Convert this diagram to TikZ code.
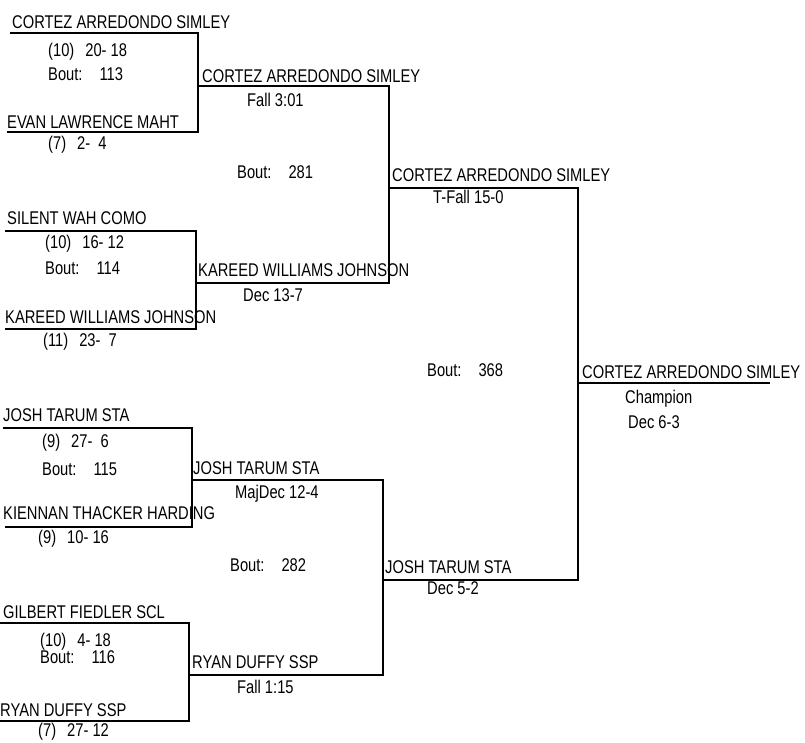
\documentclass[tikz,border=0pt]{standalone}
\usepackage{fontspec}
\setmainfont[FakeStretch=0.8]{Liberation Sans}

\newcommand{\seedrec}[2]{(#1)\hspace{11pt}#2}
\newcommand{\boutno}[1]{Bout:\hspace{17pt}#1}

\begin{document}
\begin{tikzpicture}
	[x=1pt, y=-1pt,
	 every node/.style={inner sep=0pt,anchor=base west,font=\fontsize{18.4}{20}\selectfont},
	 connect/.style={line width=1.2pt}]
	\useasboundingbox (0,0) rectangle (805,742);

	\coordinate (a1w) at (10,33);   \coordinate (a1e) at (198,33);
	\coordinate (a2w) at (7,132);   \coordinate (a2e) at (198,132);
	\coordinate (a3w) at (5,231);   \coordinate (a3e) at (196,231);
	\coordinate (a4w) at (5,329);   \coordinate (a4e) at (196,329);
	\coordinate (a5w) at (3,428);   \coordinate (a5e) at (192,428);
	\coordinate (a6w) at (5,527);   \coordinate (a6e) at (192,527);
	\coordinate (a7w) at (0,623);   \coordinate (a7e) at (189,623);
	\coordinate (a8w) at (0,721);   \coordinate (a8e) at (189,721);
	\coordinate (b1w) at (198,86);  \coordinate (b1e) at (389,86);
	\coordinate (b2w) at (196,283); \coordinate (b2e) at (389,283);
	\coordinate (b3w) at (192,480); \coordinate (b3e) at (383,480);
	\coordinate (b4w) at (189,675); \coordinate (b4e) at (383,675);
	\coordinate (c1w) at (389,188); \coordinate (c1e) at (578,188);
	\coordinate (c2w) at (383,580); \coordinate (c2e) at (578,580);
	\coordinate (d1w) at (578,383); \coordinate (d1e) at (770,383);

	\node (a1) at (12,28.5) {CORTEZ ARREDONDO SIMLEY};
	\node (a1s) at (48,56.5) {\seedrec{10}{20- 18}};
	\node (a1b) at (48,80.5) {\boutno{113}};
	\node (a2) at (7,128.5) {EVAN LAWRENCE MAHT};
	\node (a2s) at (48,149.5) {\seedrec{7}{2-\ \ 4}};

	\node (a3) at (7,224.5) {SILENT WAH COMO};
	\node (a3s) at (45,248.5) {\seedrec{10}{16- 12}};
	\node (a3b) at (45,274.5) {\boutno{114}};
	\node (a4) at (5,323.5) {KAREED WILLIAMS JOHNSON};
	\node (a4s) at (43,346.5) {\seedrec{11}{23-\ \ 7}};

	\node (a5) at (3,421.5) {JOSH TARUM STA};
	\node (a5s) at (42,447.5) {\seedrec{9}{27-\ \ 6}};
	\node (a5b) at (42,475.5) {\boutno{115}};
	\node (a6) at (3,519.5) {KIENNAN THACKER HARDING};
	\node (a6s) at (38,543.5) {\seedrec{9}{10- 16}};

	\node (a7) at (3,618.5) {GILBERT FIEDLER SCL};
	\node (a7s) at (40,646.5) {\seedrec{10}{4- 18}};
	\node (a7b) at (40,663.5) {\boutno{116}};
	\node (a8) at (0,716) {RYAN DUFFY SSP};
	\node (a8s) at (38,736.5) {\seedrec{7}{27- 12}};

	\node (b1) at (202,82.5) {CORTEZ ARREDONDO SIMLEY};
	\node (b1r) at (247,106.5) {Fall 3:01};
	\node (b1b) at (237,178.5) {\boutno{281}};
	\node (b2) at (198,276.5) {KAREED WILLIAMS JOHNSON};
	\node (b2r) at (243,301.5) {Dec 13-7};

	\node (b3) at (193,474.5) {JOSH TARUM STA};
	\node (b3r) at (235,498.5) {MajDec 12-4};
	\node (b3b) at (230,571.5) {\boutno{282}};
	\node (b4) at (192,668.5) {RYAN DUFFY SSP};
	\node (b4r) at (237,693.5) {Fall 1:15};

	\node (c1) at (392,181.5) {CORTEZ ARREDONDO SIMLEY};
	\node (c1r) at (433,203.5) {T-Fall 15-0};
	\node (c1b) at (427,376.5) {\boutno{368}};
	\node (c2) at (385,573.5) {JOSH TARUM STA};
	\node (c2r) at (427,594.5) {Dec 5-2};

	\node (d1) at (582,378.5) {CORTEZ ARREDONDO SIMLEY};
	\node (d1r) at (625,403.5) {Champion};
	\node (d1s) at (628,428.5) {Dec 6-3};

	\draw [connect] (a1w) -- (a1e) -- (a2e) -- (a2w);
	\draw [connect] (a3w) -- (a3e) -- (a4e) -- (a4w);
	\draw [connect] (a5w) -- (a5e) -- (a6e) -- (a6w);
	\draw [connect] (a7w) -- (a7e) -- (a8e) -- (a8w);
	\draw [connect] (b1w) -- (b1e) -- (b2e) -- (b2w);
	\draw [connect] (b3w) -- (b3e) -- (b4e) -- (b4w);
	\draw [connect] (c1w) -- (c1e) -- (c2e) -- (c2w);
	\draw [connect] (d1w) -- (d1e);
\end{tikzpicture}
\end{document}
